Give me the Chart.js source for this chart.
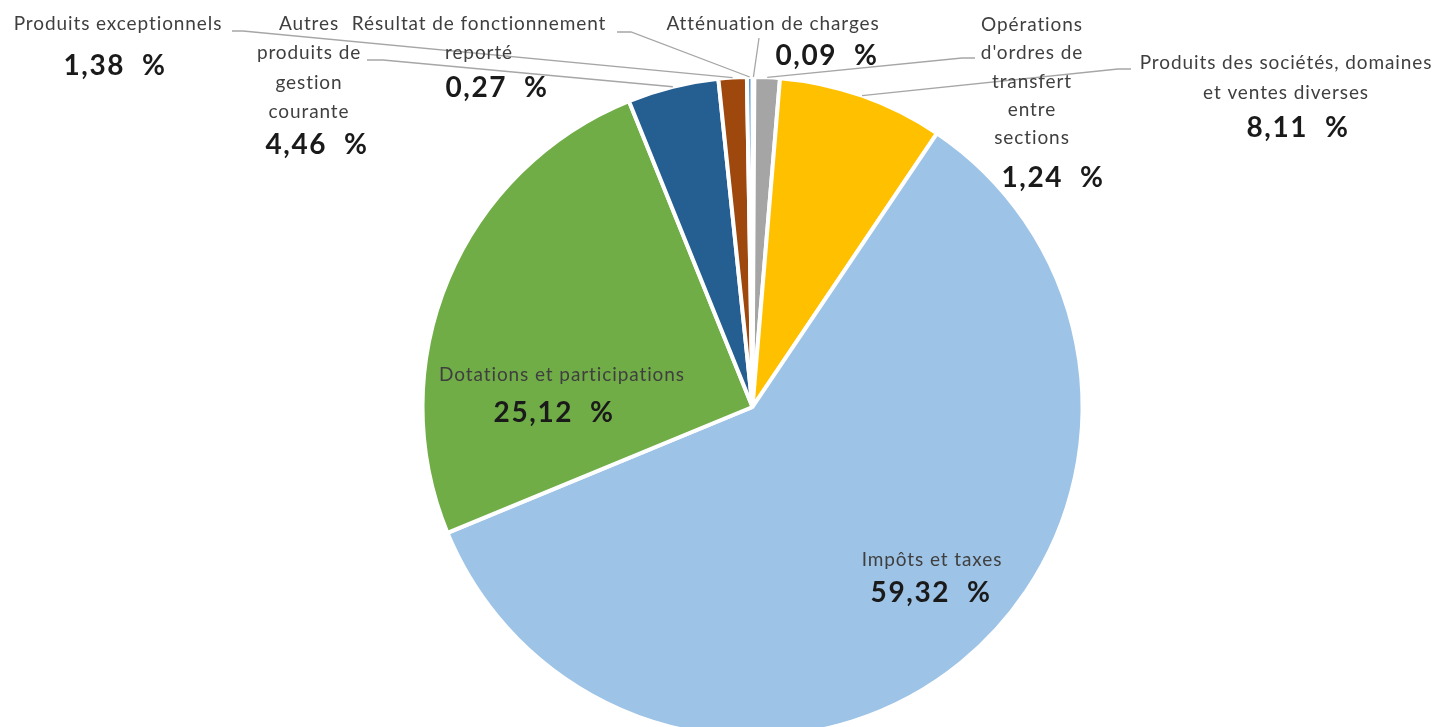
<!DOCTYPE html>
<html><head><meta charset="utf-8">
<script src="https://cdn.jsdelivr.net/npm/chart.js@4.4.1/dist/chart.umd.min.js"></script>
<style>html,body{margin:0;padding:0;background:#fff;overflow:hidden;width:1449px;height:727px}</style>
</head><body>
<canvas id="c" width="1449" height="760" style="display:block;width:1449px;height:760px"></canvas>
<script>
// ---- data ----
const categories = [
  "Atténuation de charges",
  "Opérations d'ordres de transfert entre sections",
  "Produits des sociétés, domaines et ventes diverses",
  "Impôts et taxes",
  "Dotations et participations",
  "Autres produits de gestion courante",
  "Produits exceptionnels",
  "Résultat de fonctionnement reporté"
];
const values = [0.09, 1.24, 8.11, 59.32, 25.12, 4.46, 1.38, 0.27];
const labelLines = [
  ["Atténuation de charges"],
  ["Opérations", "d'ordres de", "transfert", "entre", "sections"],
  ["Produits des sociétés, domaines", "et ventes diverses"],
  ["Impôts et taxes"],
  ["Dotations et participations"],
  ["Autres", "produits de", "gestion", "courante"],
  ["Produits exceptionnels"],
  ["Résultat de fonctionnement", "reporté"]
];
const colors = ["#4472C4", "#A5A5A5", "#FFC000", "#9DC3E6", "#70AD47", "#255E91", "#9E480E", "#5B9BD5"];

// ---- label layout (text placement only) ----
const labelLayout = [
  {x: 773,  y: 24,  lh: 29,   vx: 827,  vy: 56,  lead: [[759, 38]]},
  {x: 1032, y: 25,  lh: 28.3, vx: 1053, vy: 178, lead: [[975, 58], [962, 58]]},
  {x: 1286, y: 63,  lh: 30,   vx: 1298, vy: 128, lead: [[1131, 69], [1118, 69]]},
  {x: 932,  y: 560, lh: 0,    vx: 931,  vy: 593, lead: null},
  {x: 562,  y: 375, lh: 0,    vx: 554,  vy: 413, lead: null},
  {x: 309,  y: 24,  lh: 29.2, vx: 317,  vy: 145, lead: [[367, 60], [383, 60]]},
  {x: 118,  y: 24,  lh: 0,    vx: 115,  vy: 66,  lead: [[232, 31], [243, 31]]},
  {x: 479,  y: 24,  lh: 29,   vx: 497,  vy: 88,  lead: [[617, 32], [631, 32]]}
];

const fmt = v => v.toFixed(2).replace('.', ',') + '  %';

const labelPlugin = {
  id: 'excelLabels',
  afterDatasetsDraw(chart) {
    const ctx = chart.ctx;
    const meta = chart.getDatasetMeta(0);
    ctx.save();
    // leader lines
    ctx.strokeStyle = '#A6A6A6';
    ctx.lineWidth = 1.3;
    meta.data.forEach((arc, i) => {
      const L = labelLayout[i];
      if (!L.lead) return;
      const p = arc.getProps(['x', 'y', 'startAngle', 'endAngle', 'outerRadius'], true);
      const mid = (p.startAngle + p.endAngle) / 2;
      const ex = p.x + Math.cos(mid) * p.outerRadius;
      const ey = p.y + Math.sin(mid) * p.outerRadius;
      ctx.beginPath();
      ctx.moveTo(L.lead[0][0], L.lead[0][1]);
      for (let k = 1; k < L.lead.length; k++) ctx.lineTo(L.lead[k][0], L.lead[k][1]);
      ctx.lineTo(ex, ey);
      ctx.stroke();
    });
    // texts
    ctx.textAlign = 'center';
    ctx.textBaseline = 'middle';
    meta.data.forEach((arc, i) => {
      const L = labelLayout[i];
      ctx.font = '19px Lato';
      ctx.fillStyle = '#3F3F3F';
      try { ctx.letterSpacing = '0.9px'; } catch (e) {}
      labelLines[i].forEach((t, k) => ctx.fillText(t, L.x, L.y + k * L.lh));
      ctx.font = 'bold 28px Lato';
      ctx.fillStyle = '#1A1A1A';
      try { ctx.letterSpacing = '1.6px'; } catch (e) {}
      ctx.fillText(fmt(values[i]), L.vx, L.vy);
    });
    ctx.restore();
  }
};

new Chart(document.getElementById('c'), {
  type: 'pie',
  data: {
    labels: categories,
    datasets: [{
      data: values,
      backgroundColor: colors,
      borderColor: '#FFFFFF',
      borderWidth: 4
    }]
  },
  options: {
    responsive: false,
    animation: false,
    devicePixelRatio: 1,
    layout: {padding: {left: 56, top: 75, right: 0, bottom: 21}},
    plugins: {legend: {display: false}, tooltip: {enabled: false}}
  },
  plugins: [labelPlugin]
});
</script>
</body></html>
